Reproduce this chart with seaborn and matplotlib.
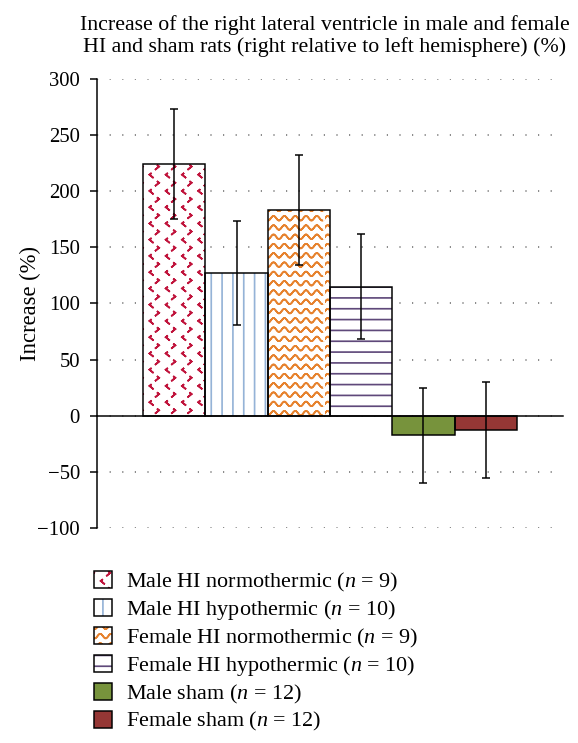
import warnings
import numpy as np
import pandas as pd
import matplotlib
matplotlib.use("Agg")
import matplotlib.pyplot as plt
import matplotlib.hatch as mhatch
from matplotlib.path import Path
from matplotlib.patches import Patch, Rectangle
import seaborn as sns

warnings.filterwarnings("ignore")

# ─── Data ────────────────────────────────────────────────────────────────────

groups = ["Male HI normothermic", "Male HI hypothermic", "Female HI normothermic",
          "Female HI hypothermic", "Male sham", "Female sham"]
n_rats = [9, 10, 9, 10, 12, 12]
means = [224.5, 127.3, 183.2, 115.0, -17.5, -12.8]
errs = [49.0, 46.6, 49.1, 46.5, 42.6, 42.5]
yticks = [-100, -50, 0, 50, 100, 150, 200, 250, 300]

title = ("Increase of the right lateral ventricle in male and female\n"
         "HI and sham rats (right relative to left hemisphere) (%)")

face_colors = ["white", "white", "white", "white", "#77933C", "#953735"]
hatch_colors = ["#C0143C", "#95B3D7", "#E6822E", "#5F497A", "#77933C", "#953735"]
hatches = ["<", "|", "~", "-", "", ""]

DPI = 65
PX = 72 / DPI   # points per pixel


# ─── Custom hatches (dotted chevrons and waves) ──────────────────────────────

class ChevronHatch(mhatch.HatchPatternBase):
    rows, cols = 8, 4

    def __init__(self, hatch, density):
        self.num_vertices = 5 * self.rows * self.cols if "<" in hatch else 0

    def set_vertices_and_codes(self, vertices, codes):
        w, h = 0.022, 0.018
        k = 0
        for r in range(self.rows):
            y = (r + 0.5) / self.rows
            shift = 0.0 if r % 2 == 0 else 0.5
            for c in range(self.cols):
                x = (c + 0.2 + shift) / self.cols
                if r % 2 == 0:
                    pts = [(x + w, y + h), (x, y), (x + w, y - h)]
                else:
                    pts = [(x, y + h), (x + w, y), (x, y - h)]
                pts = pts + pts[-2::-1]
                vertices[k:k + 5] = pts
                codes[k] = Path.MOVETO
                codes[k + 1:k + 5] = Path.LINETO
                k += 5


class WaveHatch(mhatch.HatchPatternBase):
    rows, waves, steps = 7, 6, 60

    def __init__(self, hatch, density):
        self.num_vertices = 2 * (self.steps + 1) * self.rows if "~" in hatch else 0

    def set_vertices_and_codes(self, vertices, codes):
        xs = np.linspace(0, 1, self.steps + 1)
        n = self.steps + 1
        for r in range(self.rows):
            ys = (r + 0.5) / self.rows + 0.036 * np.sin(2 * np.pi * self.waves * xs)
            seg = np.column_stack([xs, ys])
            seg = np.vstack([seg, seg[::-1]])
            vertices[2 * n * r:2 * n * (r + 1)] = seg
            codes[2 * n * r] = Path.MOVETO
            codes[2 * n * r + 1:2 * n * (r + 1)] = Path.LINETO


mhatch._hatch_types.extend([ChevronHatch, WaveHatch])


# ─── Style ───────────────────────────────────────────────────────────────────

sns.set_style("white")
plt.rcParams["font.family"] = ["Liberation Serif", "DejaVu Serif"]
plt.rcParams["mathtext.fontset"] = "custom"
plt.rcParams["mathtext.rm"] = "Liberation Serif"
plt.rcParams["mathtext.it"] = "Liberation Serif:italic"
plt.rcParams["text.color"] = "black"
plt.rcParams["axes.labelcolor"] = "black"
plt.rcParams["ytick.color"] = "black"
plt.rcParams["axes.edgecolor"] = "black"
plt.rcParams["hatch.linewidth"] = 1.7 * PX

FS_TITLE = 24.3
FS_TICK = 23
FS_LABEL = 25
FS_LEG = 24.5

# ─── Plot ────────────────────────────────────────────────────────────────────

df = pd.DataFrame({"group": groups, "mean": means})

fig = plt.figure(figsize=(578 / DPI, 743 / DPI), dpi=DPI)
ax = fig.add_axes([97 / 578, 215 / 743, 466 / 578, 449 / 743])

sns.barplot(data=df, x="group", y="mean", hue="group",
            palette=dict(zip(groups, face_colors)), saturation=1,
            width=1.0, errorbar=None, legend=False, ax=ax)

bars = list(ax.patches)
for p, hc, h in zip(bars, hatch_colors, hatches):
    p.set_edgecolor(hc)
    p.set_hatch(h)
    p.set_linewidth(0)
    ax.add_patch(Rectangle(p.get_xy(), p.get_width(), p.get_height(),
                           fill=False, edgecolor="black", lw=1.5 * PX, zorder=2))

xs = [p.get_x() + p.get_width() / 2 for p in bars]
ax.errorbar(xs, means, yerr=errs, fmt="none", ecolor="black",
            elinewidth=1.5 * PX, capsize=3.5 * PX, capthick=1.5 * PX, zorder=4)

ax.set_xlim(-1.24, 6.24)
ax.set_ylim(-100, 300)
ax.set_yticks(yticks)
ax.set_axisbelow(True)
ax.yaxis.grid(True, color="#8c8c8c", linestyle=(0, (0.6, 5.7)), linewidth=2 * PX)
ax.xaxis.grid(False)

for s in ["top", "right"]:
    ax.spines[s].set_visible(False)
ax.spines["bottom"].set_position(("data", 0))
ax.spines["bottom"].set_linewidth(1.5 * PX)
ax.spines["left"].set_linewidth(1.5 * PX)
ax.spines["bottom"].set_zorder(3)

ax.tick_params(axis="x", bottom=False, labelbottom=False)
ax.tick_params(axis="y", left=True, direction="out", length=7 * PX,
               width=1.5 * PX, pad=10 * PX, labelsize=FS_TICK)
ax.set_xlabel("")
ax.set_ylabel("Increase (%)", fontsize=FS_LABEL)
ax.yaxis.set_label_coords(-0.12, 0.5)

fig.text(325 / 578, 1 - 36 / 743, title, ha="center", va="center",
         fontsize=FS_TITLE, linespacing=1.1)

# Legend
handles = []
for fc, hc, h in zip(face_colors, hatch_colors, hatches):
    fill = Patch(facecolor=fc, edgecolor=hc, hatch=h, lw=0)
    edge = Patch(facecolor="none", edgecolor="black", lw=1.5 * PX)
    handles.append((fill, edge))
labels = [f"{g} ($n$ = {n})" for g, n in zip(groups, n_rats)]
fig.legend(handles, labels, loc="upper left", bbox_to_anchor=(94 / 578, 1 - 571 / 743),
           frameon=False, handlelength=0.81, handleheight=0.81, handletextpad=0.62,
           labelspacing=0.2, borderpad=0, borderaxespad=0, fontsize=FS_LEG)

fig.savefig("out.png", dpi=DPI)
